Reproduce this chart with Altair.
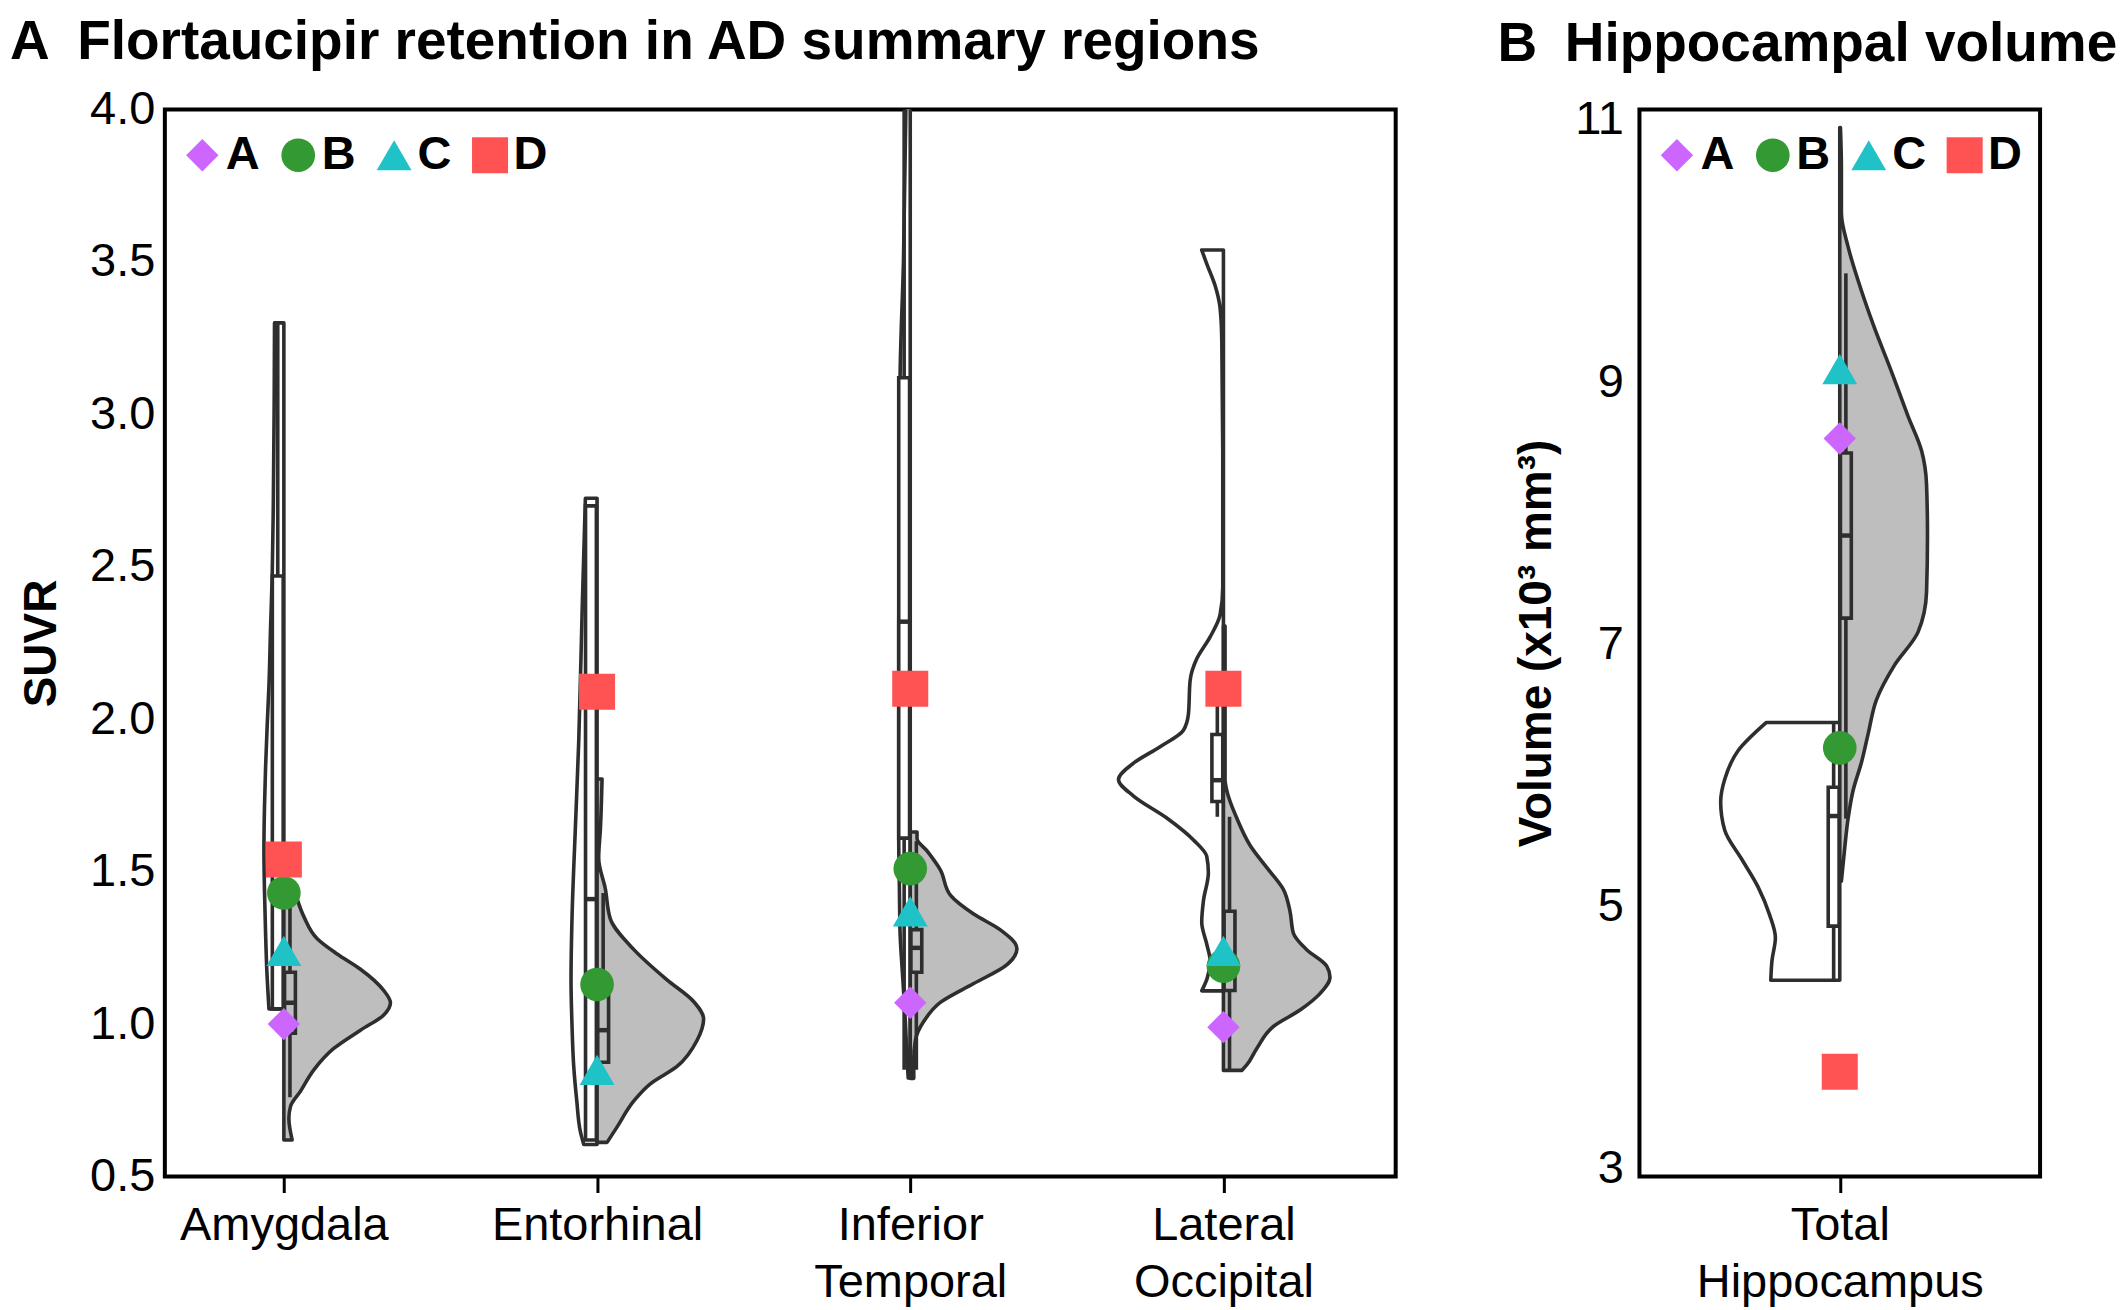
import altair as alt
import pandas as pd

# ---------------- data ----------------
regions = ["Amygdala", "Entorhinal", "Inferior Temporal", "Lateral Occipital"]
region_pos = [1, 2, 3, 4]
hippo_regions = ["Total Hippocampus"]
hippo_pos = [1]

subjects = ["A", "B", "C", "D"]
subject_colors = ["#CC66FF", "#339933", "#1FC3C7", "#FF5252"]
subject_shapes = ["diamond", "circle", "triangle-up", "square"]
subject_sizes = [1050, 1300, 1750, 1250]

# individual subjects, SUVR per region
suvr_A = [1.00, 1.13, 1.07, 0.99]
suvr_B = [1.43, 1.13, 1.51, 1.19]
suvr_C = [1.24, 0.85, 1.37, 1.24]
suvr_D = [1.54, 2.09, 2.10, 2.10]
# individual subjects, hippocampal volume (x10^3 mm^3)
vol_A = [8.57]
vol_B = [6.21]
vol_C = [9.10]
vol_D = [3.74]

# violin profiles: level and relative half-width (density), left = white group, right = grey group
amyg_L_v = [1.05, 1.17, 1.30, 1.44, 1.57, 1.71, 1.84, 1.98, 2.11, 2.30, 2.47, 2.70, 3.00, 3.30]
amyg_L_d = [11.0, 12.5, 13.5, 14.3, 14.7, 14.3, 13.5, 12.3, 11.0, 9.8, 8.6, 7.8, 7.2, 6.9]
amyg_R_v = [0.62, 0.69, 0.73, 0.78, 0.85, 0.92, 0.98, 1.03, 1.07, 1.11, 1.18, 1.23, 1.28, 1.35, 1.41]
amyg_R_d = [6.1, 3.7, 4.9, 12.3, 22.1, 36.8, 56.5, 73.7, 78.6, 73.7, 56.5, 39.3, 24.6, 15.0, 9.8]

ento_L_v = [0.605, 0.647, 0.75, 0.861, 1.0, 1.145, 1.359, 1.643, 1.928, 2.355, 2.725]
ento_L_d = [9.8, 12.3, 15.0, 17.2, 18.5, 19.2, 18.4, 16.0, 13.5, 11.0, 8.6]
ento_R_v = [0.612, 0.662, 0.747, 0.804, 0.861, 0.946, 1.017, 1.074, 1.145, 1.245, 1.345, 1.444, 1.544, 1.643, 1.804]
ento_R_d = [7.4, 14.7, 27.0, 39.3, 59.0, 73.7, 78.6, 71.2, 51.6, 27.0, 9.8, 6.1, 1.2, 2.5, 3.7]

it_L_v = [0.823, 0.90, 1.00, 1.15, 1.30, 1.45, 1.61, 2.30, 3.12, 3.50, 4.20]
it_L_d = [1.5, 2.5, 3.5, 5.5, 7.5, 8.0, 8.5, 8.5, 7.5, 5.0, 2.5]
it_R_v = [0.822, 0.884, 0.947, 1.009, 1.071, 1.133, 1.195, 1.247, 1.309, 1.361, 1.423, 1.506, 1.568, 1.609, 1.630]
it_R_d = [2.6, 2.6, 3.8, 10.0, 22.2, 46.8, 71.4, 78.7, 66.5, 46.8, 29.6, 22.2, 12.4, 5.0, 5.0]

lo_L_v = [1.109, 1.15, 1.208, 1.262, 1.334, 1.406, 1.496, 1.550, 1.604, 1.676, 1.748, 1.802, 1.856,
          1.910, 1.964, 2.018, 2.126, 2.198, 2.270, 2.342, 2.432, 2.882, 3.242, 3.350, 3.422, 3.494, 3.539]
lo_L_d = [16.0, 12.0, 9.8, 12.3, 16.0, 14.7, 11.1, 12.3, 22.1, 41.8, 66.3, 77.4, 66.3,
          46.7, 29.5, 25.8, 24.6, 19.7, 9.8, 2.5, 0.5, 0.5, 1.2, 2.5, 6.1, 12.3, 16.0]
lo_R_v = [0.848, 0.866, 0.920, 0.992, 1.046, 1.100, 1.154, 1.190, 1.244, 1.298, 1.370, 1.442, 1.514,
          1.586, 1.676, 1.766, 1.802, 2.306]
lo_R_d = [13.5, 17.2, 24.6, 36.8, 56.5, 71.2, 78.6, 76.2, 61.4, 51.6, 49.1, 44.2, 31.9,
          19.7, 9.8, 2.5, 1.2, 1.2]

hip_L_v = [4.437, 4.588, 4.761, 4.934, 5.150, 5.366, 5.582, 5.798, 5.971, 6.188, 6.404]
hip_L_d = [50.8, 49.9, 47.4, 51.6, 60.2, 72.5, 84.7, 87.7, 84.7, 74.9, 54.0]
hip_R_v = [5.193, 5.452, 5.669, 5.885, 6.101, 6.317, 6.577, 6.836, 7.095, 7.398, 7.830, 8.219,
           8.478, 8.737, 9.083, 9.429, 9.775, 10.034, 10.293, 10.639, 10.942]
hip_R_d = [1.2, 3.7, 6.1, 9.8, 16.0, 20.9, 27.0, 40.0, 57.7, 63.9, 64.6, 63.9,
           60.2, 50.4, 38.0, 25.0, 13.5, 6.1, 1.2, 1.2, 0.5]

# box plot statistics per region: left (white) group and right (grey) group
L_q1 = [1.05, 0.62, 1.61, 1.73]
L_med = [1.22, 1.41, 2.32, 1.80]
L_q3 = [2.47, 2.70, 3.12, 1.95]
L_lo = [1.05, 0.62, 0.85, 1.68]
L_hi = [3.30, 2.70, 4.00, 2.05]
R_q1 = [0.97, 0.875, 1.17, 1.11]
R_med = [1.07, 0.98, 1.25, 1.18]
R_q3 = [1.17, 1.12, 1.31, 1.37]
R_lo = [0.76, 0.875, 0.85, 0.85]
R_hi = [1.41, 1.43, 1.60, 1.68]
hipL_q1, hipL_med, hipL_q3, hipL_lo, hipL_hi = [4.85], [5.69], [5.91], [4.44], [6.40]
hipR_q1, hipR_med, hipR_q3, hipR_lo, hipR_hi = [7.20], [7.83], [8.46], [5.67], [9.83]

# ---------------- styling constants ----------------
FONT = "Liberation Sans"
LINE = "#2E2E2E"
GREY = "#BEBEBE"
KA = 1 / 231.0   # density -> x units, panel A
KB = 1 / 295.0   # density -> x units, panel B
BOX_L = (-8.5, -0.5)
BOX_R = (0.5, 8.5)
WH_L = -4.5
WH_R = 4.5

# ---------------- tables ----------------
def violin_table(profiles, k):
    rows = []
    for pos, side, levels, dens in profiles:
        sign = -1 if side == "left" else 1
        for lv, d in zip(levels, dens):
            rows.append(dict(key=f"{pos}-{side}", side=side, v=lv, xa=pos, xb=pos + sign * d * k))
    return pd.DataFrame(rows)


def box_table(positions, stats_l, stats_r, k):
    rows = []
    for side, stats, (o1, o2), ow in (("left", stats_l, BOX_L, WH_L), ("right", stats_r, BOX_R, WH_R)):
        q1, med, q3, lo, hi = stats
        for i, pos in enumerate(positions):
            rows.append(dict(side=side, bx1=pos + o1 * k, bx2=pos + o2 * k, wx=pos + ow * k,
                             q1=q1[i], med=med[i], q3=q3[i], lo=lo[i], hi=hi[i]))
    return pd.DataFrame(rows)


def point_table(positions, series):
    rows = []
    for s, vals in zip(subjects, series):
        for pos, v in zip(positions, vals):
            rows.append(dict(subject=s, pos=pos, val=v))
    return pd.DataFrame(rows)


vA = violin_table([
    (1, "left", amyg_L_v, amyg_L_d), (1, "right", amyg_R_v, amyg_R_d),
    (2, "left", ento_L_v, ento_L_d), (2, "right", ento_R_v, ento_R_d),
    (3, "left", it_L_v, it_L_d), (3, "right", it_R_v, it_R_d),
    (4, "left", lo_L_v, lo_L_d), (4, "right", lo_R_v, lo_R_d),
], KA)
vB = violin_table([(1, "left", hip_L_v, hip_L_d), (1, "right", hip_R_v, hip_R_d)], KB)

bA = box_table(region_pos, (L_q1, L_med, L_q3, L_lo, L_hi), (R_q1, R_med, R_q3, R_lo, R_hi), KA)
bB = box_table(hippo_pos, (hipL_q1, hipL_med, hipL_q3, hipL_lo, hipL_hi),
               (hipR_q1, hipR_med, hipR_q3, hipR_lo, hipR_hi), KB)

pA = point_table(region_pos, [suvr_A, suvr_B, suvr_C, suvr_D])
pB = point_table(hippo_pos, [vol_A, vol_B, vol_C, vol_D])


def label_expr(names, positions):
    parts = []
    for n, p in zip(names, positions):
        arr = "[" + ",".join("'" + w + "'" for w in n.split(" ")) + "]"
        parts.append(f"datum.value == {p} ? {arr} : ")
    return "".join(parts) + "''"


def panel(vdf, bdf, pdf, xdom, ydom, yvals, yfmt, ytitle, names, positions,
          width, height, title, title_dx, title_offset, ylabpad, ytitlepad, legx, legy):
    xscale = alt.Scale(domain=xdom, nice=False, zero=False)
    yscale = alt.Scale(domain=ydom, nice=False, zero=False)
    xaxis = alt.Axis(values=positions, labelExpr=label_expr(names, positions), title=None,
                     grid=False, domain=False,
                     ticks=True, tickSize=16, tickWidth=3, tickColor="black",
                     labelFontSize=47, labelPadding=10, labelLineHeight=57, labelLimit=1000,
                     labelColor="black", labelFont=FONT, labelOverlap=False, labelBound=False)
    yaxis = alt.Axis(values=yvals, format=yfmt, title=ytitle, ticks=False, grid=False, domain=False,
                     labelFontSize=47, labelPadding=ylabpad, labelColor="black", labelFont=FONT,
                     titleFontSize=46, titleFontWeight="bold", titleFont=FONT, titleColor="black",
                     titlePadding=ytitlepad)

    layers = []
    for side, fill in (("left", "#FFFFFF"), ("right", GREY)):
        sub = vdf[vdf["side"] == side]
        if side == "left":
            yenc = alt.Y("v:Q", scale=yscale, axis=yaxis)
            xenc = alt.X("xa:Q", scale=xscale, axis=xaxis, stack=None)
        else:
            yenc = alt.Y("v:Q")
            xenc = alt.X("xa:Q", stack=None)
        layers.append(
            alt.Chart(sub).mark_area(orient="horizontal", interpolate="monotone", fill=fill,
                                     stroke=LINE, strokeWidth=3.6, strokeJoin="round", clip=True).encode(
                y=yenc, x=xenc, x2="xb:Q", detail="key:N",
            )
        )
    whisk_lo = alt.Chart(bdf).mark_rule(color=LINE, strokeWidth=3.6, clip=True).encode(
        x="wx:Q", y="lo:Q", y2="q1:Q")
    whisk_hi = alt.Chart(bdf).mark_rule(color=LINE, strokeWidth=3.6, clip=True).encode(
        x="wx:Q", y="q3:Q", y2="hi:Q")
    box = alt.Chart(bdf).mark_rect(stroke=LINE, strokeWidth=3.6).encode(
        x="bx1:Q", x2="bx2:Q", y="q1:Q", y2="q3:Q",
        fill=alt.Fill("side:N", scale=alt.Scale(domain=["left", "right"], range=["#FFFFFF", GREY]),
                      legend=None))
    med = alt.Chart(bdf).mark_rule(color=LINE, strokeWidth=4.5).encode(
        x="bx1:Q", x2="bx2:Q", y="med:Q")

    leg = alt.Legend(orient="none", legendX=legx, legendY=legy, direction="horizontal", title=None,
                     labelFont=FONT, labelFontSize=47, labelFontWeight="bold", labelColor="black",
                     symbolSize=1150, symbolStrokeWidth=0, symbolOpacity=1,
                     columnPadding=15, labelOffset=0, padding=0)
    pts = alt.Chart(pdf).mark_point(filled=True, opacity=1, strokeWidth=0).encode(
        x="pos:Q", y="val:Q",
        color=alt.Color("subject:N", scale=alt.Scale(domain=subjects, range=subject_colors), legend=leg),
        shape=alt.Shape("subject:N", scale=alt.Scale(domain=subjects, range=subject_shapes), legend=leg),
        size=alt.Size("subject:O", scale=alt.Scale(domain=subjects, range=subject_sizes), legend=None),
    )
    layers += [whisk_lo, whisk_hi, box, med, pts]
    return alt.layer(*layers).properties(
        width=width, height=height,
        title=alt.TitleParams(text=title, anchor="start", frame="group", dx=title_dx,
                              offset=title_offset, fontSize=55, fontWeight="bold", font=FONT,
                              color="black", baseline="alphabetic"),
    )


chartA = panel(vA, bA, pA, [0.62, 4.55], [0.5, 4.0], [0.5, 1.0, 1.5, 2.0, 2.5, 3.0, 3.5, 4.0], ".1f",
               "SUVR", regions, region_pos, 1232, 1068,
               "A\u2002Flortaucipir retention in AD summary regions", -155, -28, 10, 24, 14, 22)
chartB = panel(vB, bB, pB, [0.5, 1.5], [2.94, 11.08], [3, 5, 7, 9, 11], "d",
               "Volume (x10\u00b3 mm\u00b3)", hippo_regions, hippo_pos, 401, 1068,
               "B\u2002Hippocampal volume", -142, -20, 16, 14, 14, 22)

chart = alt.hconcat(chartA, chartB, spacing=98).resolve_scale(
    x="independent", y="independent", color="independent", shape="independent",
    size="independent", fill="independent",
).properties(padding={"top": 4, "left": 0, "right": 0, "bottom": 0}).configure(font=FONT).configure_view(
    stroke="black", strokeWidth=4
).configure_axis(grid=False, domain=False)

chart.save("out.html", embed_options={"renderer": "svg", "actions": False})
